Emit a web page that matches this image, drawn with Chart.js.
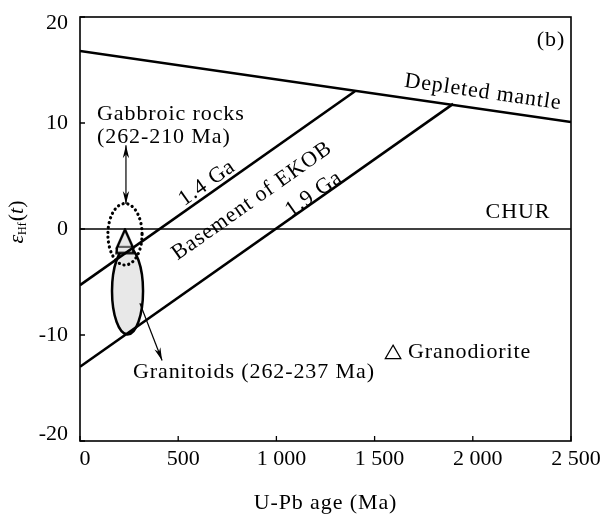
<!DOCTYPE html>
<html><head><meta charset="utf-8">
<script src="https://cdn.jsdelivr.net/npm/chart.js@4.4.1/dist/chart.umd.min.js"></script>
<style>html,body{margin:0;padding:0;background:#fff}#wrap{width:603px;height:517px}</style>
</head><body><div id="wrap"><canvas id="c" width="603" height="517"></canvas></div>
<script>
// ---- data ----
const xTickLabels = ['0', '500', '1 000', '1 500', '2 000', '2 500'];
const yTickLabels = ['-20', '-10', '0', '10', '20'];
const depletedMantleX = [0, 2500];
const depletedMantleY = [16.8, 10.1];
const churX = [0, 2500];
const churY = [0, 0];
const ga14X = [0, 1400];
const ga14Y = [-5.3, 13.0];
const ga19X = [0, 1900];
const ga19Y = [-13.0, 11.8];
const granodioriteX = [229];
const granodioriteY = [-1.18];
const legendTriX = [1594];
const legendTriY = [-11.8];
// ellipses: [centerX, centerY, radiusX (Ma), radiusY (eHf)]
const gabbroEllipse = [229, -0.5, 87, 2.9];
const granitoidEllipse = [242, -5.85, 79, 4.1];
// arrows: [x1, y1, x2, y2]
const gabbroArrow = [234, 2.35, 234, 7.9];
const granitoidArrow = [305, -7.0, 418, -12.4];
// text labels: [text, x, y]
const labelTexts = ['Gabbroic rocks', '(262-210 Ma)', '1.4 Ga', 'Basement of EKOB', '1.9 Ga', 'CHUR', 'Depleted mantle', '(b)', 'Granitoids (262-237 Ma)', 'Granodiorite'];
const labelX = [87, 87, 647, 876, 1191, 2230, 2052, 2398, 270, 1670];
const labelY = [10.85, 8.68, 4.34, 2.64, 3.3, 1.6, 12.9, 17.8, -13.5, -11.6];

const FONT = '"Liberation Serif", "Times New Roman", serif';
const FS = 22;
const LS = '0.9px';

function pts(xs, ys) { return xs.map((x, i) => ({x: x, y: ys[i]})); }

// marker image for granodiorite on the granitoid field
const mk = document.createElement('canvas');
mk.width = 22; mk.height = 28;
(function () {
  const g = mk.getContext('2d');
  g.lineWidth = 2.4; g.strokeStyle = '#000'; g.fillStyle = '#e8e8e8'; g.lineJoin = 'miter';
  g.beginPath(); g.moveTo(11, 2); g.lineTo(3, 20); g.lineTo(19, 20); g.closePath(); g.fill(); g.stroke();
  g.beginPath(); g.moveTo(3, 20); g.lineTo(2.5, 25.5); g.lineTo(19.5, 25.5); g.lineTo(19, 20); g.fill(); g.stroke();
})();

function arrowHead(ctx, x1, y1, x2, y2) {
  const a = Math.atan2(y2 - y1, x2 - x1), L = 13, W = 3.2;
  ctx.save(); ctx.translate(x2, y2); ctx.rotate(a);
  ctx.beginPath(); ctx.moveTo(0, 0); ctx.lineTo(-L, -W); ctx.lineTo(-L + 4, 0); ctx.lineTo(-L, W); ctx.closePath(); ctx.fill();
  ctx.restore();
}

const overlay = {
  id: 'overlay',
  beforeDatasetsDraw(chart) {
    const {ctx, scales: {x, y}} = chart;
    const e = granitoidEllipse;
    const cx = x.getPixelForValue(e[0]), cy = y.getPixelForValue(e[1]);
    const rx = Math.abs(x.getPixelForValue(e[0] + e[2]) - cx), ry = Math.abs(y.getPixelForValue(e[1] + e[3]) - cy);
    ctx.save(); ctx.beginPath(); ctx.ellipse(cx, cy, rx, ry, 0, 0, Math.PI * 2);
    ctx.fillStyle = '#e8e8e8'; ctx.fill();
    ctx.lineWidth = 2.5; ctx.strokeStyle = '#000'; ctx.stroke(); ctx.restore();
  },
  afterDatasetsDraw(chart) {
    const {ctx, chartArea: ca, scales: {x, y}} = chart;
    // dotted ellipse
    const e = gabbroEllipse;
    const cx = x.getPixelForValue(e[0]), cy = y.getPixelForValue(e[1]);
    const rx = Math.abs(x.getPixelForValue(e[0] + e[2]) - cx), ry = Math.abs(y.getPixelForValue(e[1] + e[3]) - cy);
    ctx.save(); ctx.beginPath(); ctx.ellipse(cx, cy, rx, ry, 0, 0, Math.PI * 2);
    ctx.setLineDash([0.1, 4.8]); ctx.lineCap = 'round'; ctx.lineWidth = 3.2; ctx.strokeStyle = '#000'; ctx.stroke(); ctx.restore();

    ctx.save();
    // frame
    ctx.strokeStyle = '#000'; ctx.lineWidth = 1.6;
    ctx.strokeRect(ca.left, ca.top, ca.right - ca.left, ca.bottom - ca.top);
    // inner ticks
    ctx.lineWidth = 1.3; ctx.beginPath();
    x.ticks.forEach(t => { const px = x.getPixelForValue(t.value); ctx.moveTo(px, ca.bottom); ctx.lineTo(px, ca.bottom - 5); });
    y.ticks.forEach(t => { const py = y.getPixelForValue(t.value); ctx.moveTo(ca.left, py); ctx.lineTo(ca.left + 5, py); });
    ctx.stroke();

    // y tick labels (end labels kept inside the frame height, as in the original)
    ctx.fillStyle = '#000'; ctx.font = FS + 'px ' + FONT; ctx.textAlign = 'right'; ctx.textBaseline = 'middle';
    const n = y.ticks.length;
    y.ticks.forEach((t, i) => {
      let py = y.getPixelForValue(t.value);
      if (i === 0) py -= 7; if (i === n - 1) py += 6;
      ctx.fillText(yTickLabels[i], ca.left - 12, py);
    });

    // arrows
    ctx.lineWidth = 1.2;
    const ga = gabbroArrow.map((v, i) => i % 2 === 0 ? x.getPixelForValue(v) : y.getPixelForValue(v));
    ctx.beginPath(); ctx.moveTo(ga[0], ga[1]); ctx.lineTo(ga[2], ga[3]); ctx.stroke();
    arrowHead(ctx, ga[0], ga[1], ga[2], ga[3]);
    arrowHead(ctx, ga[2], ga[3], ga[0], ga[1]);
    const gr = granitoidArrow.map((v, i) => i % 2 === 0 ? x.getPixelForValue(v) : y.getPixelForValue(v));
    ctx.beginPath(); ctx.moveTo(gr[0], gr[1]); ctx.lineTo(gr[2], gr[3]); ctx.stroke();
    arrowHead(ctx, gr[0], gr[1], gr[2], gr[3]);

    // text labels
    ctx.letterSpacing = LS;
    const ang = (xs, ys) => Math.atan2(y.getPixelForValue(ys[1]) - y.getPixelForValue(ys[0]), x.getPixelForValue(xs[1]) - x.getPixelForValue(xs[0]));
    const rot = [0, 0, ang(ga14X, ga14Y), ang(ga14X, ga14Y), ang(ga19X, ga19Y), 0, ang(depletedMantleX, depletedMantleY), 0, 0, 0];
    const align = ['left', 'left', 'center', 'center', 'center', 'center', 'center', 'center', 'left', 'left'];
    ctx.font = FS + 'px ' + FONT; ctx.textBaseline = 'middle';
    labelTexts.forEach((t, i) => {
      ctx.save(); ctx.translate(x.getPixelForValue(labelX[i]), y.getPixelForValue(labelY[i])); ctx.rotate(rot[i]);
      ctx.textAlign = align[i]; ctx.fillText(t, 0, 0); ctx.restore();
    });

    // axis titles
    ctx.textAlign = 'center'; ctx.textBaseline = 'middle';
    ctx.fillText('U-Pb age (Ma)', (ca.left + ca.right) / 2, 503);
    ctx.letterSpacing = '0px';
    ctx.save(); ctx.translate(17, 222); ctx.rotate(-Math.PI / 2);
    ctx.textAlign = 'left';
    const p1 = 'ε', p2 = 'Hf', p3 = '(', p4 = 't', p5 = ')';
    ctx.font = 'italic ' + FS + 'px ' + FONT; const w1 = ctx.measureText(p1).width;
    ctx.font = '12px ' + FONT; const w2 = ctx.measureText(p2).width;
    ctx.font = FS + 'px ' + FONT; const w3 = ctx.measureText(p3).width, w5 = ctx.measureText(p5).width;
    ctx.font = 'italic ' + FS + 'px ' + FONT; const w4 = ctx.measureText(p4).width;
    let sx = -(w1 + w2 + w3 + w4 + w5 + 1) / 2;
    ctx.font = 'italic ' + FS + 'px ' + FONT; ctx.fillText(p1, sx, 0); sx += w1;
    ctx.font = '12px ' + FONT; ctx.fillText(p2, sx, 6); sx += w2 + 1;
    ctx.font = FS + 'px ' + FONT; ctx.fillText(p3, sx, 0); sx += w3;
    ctx.font = 'italic ' + FS + 'px ' + FONT; ctx.fillText(p4, sx, 0); sx += w4;
    ctx.font = FS + 'px ' + FONT; ctx.fillText(p5, sx, 0);
    ctx.restore();
    ctx.restore();
  }
};

const lineDs = (xs, ys, w) => ({data: pts(xs, ys), showLine: true, borderColor: '#000', borderWidth: w, pointRadius: 0, pointHoverRadius: 0, fill: false, borderCapStyle: 'butt'});

new Chart(document.getElementById('c'), {
  type: 'scatter',
  data: {
    datasets: [
      lineDs(depletedMantleX, depletedMantleY, 2.6),
      lineDs(churX, churY, 1.5),
      lineDs(ga14X, ga14Y, 2.6),
      lineDs(ga19X, ga19Y, 2.6),
      {data: pts(granodioriteX, granodioriteY), pointStyle: mk, pointRadius: 11, showLine: false},
      {data: pts(legendTriX, legendTriY), pointStyle: 'triangle', pointRadius: 9, borderWidth: 1.2, borderColor: '#000', backgroundColor: '#fff', showLine: false}
    ]
  },
  options: {
    responsive: false, animation: false, events: [],
    layout: {padding: {top: 17, right: 32, left: 0, bottom: 0}},
    plugins: {legend: {display: false}, tooltip: {enabled: false}},
    scales: {
      x: {
        type: 'linear', min: 0, max: 2500,
        afterFit(s) { s.height = 76; },
        grid: {display: false, drawTicks: false}, border: {display: false},
        ticks: {stepSize: 500, padding: 5, labelOffset: 5, color: '#000', font: {family: FONT, size: FS}, maxRotation: 0, autoSkip: false,
          callback: (v, i) => xTickLabels[i]}
      },
      y: {
        type: 'linear', min: -20, max: 20,
        afterFit(s) { s.width = 80; },
        grid: {display: false, drawTicks: false}, border: {display: false},
        ticks: {stepSize: 10, display: false}
      }
    }
  },
  plugins: [overlay]
});
</script></body></html>
